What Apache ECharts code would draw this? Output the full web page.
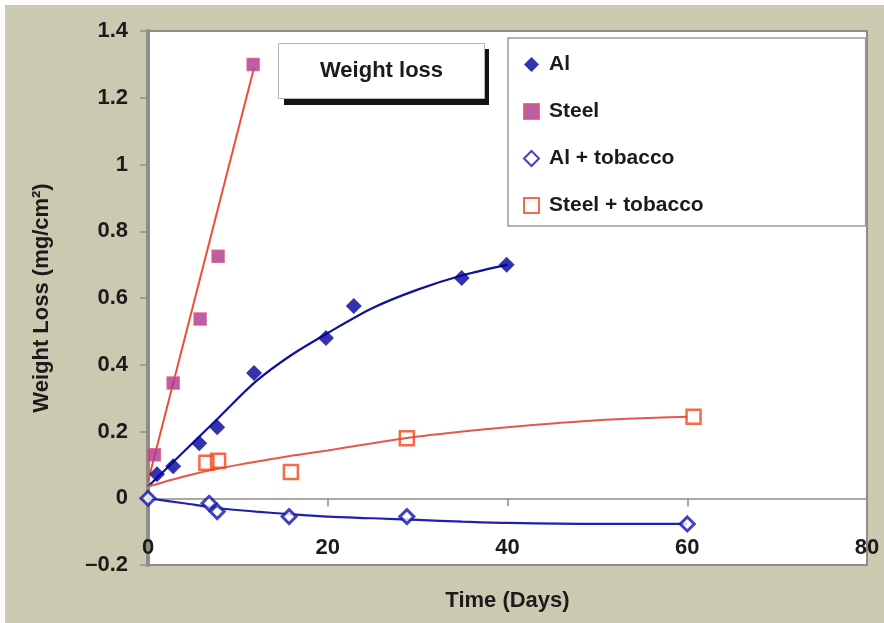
<!DOCTYPE html>
<html><head><meta charset="utf-8">
<script src="https://cdn.jsdelivr.net/npm/echarts@6/dist/echarts.min.js"></script>
<style>html,body{margin:0;padding:0;background:#fff}#c{width:884px;height:623px}</style>
</head><body><div id="c"></div>
<script>
// ---- data ----
const xTickValues = [0, 20, 40, 60, 80];
const yTickValues = [-0.2, 0, 0.2, 0.4, 0.6, 0.8, 1, 1.2, 1.4];
const seriesNames = ['Al', 'Steel', 'Al + tobacco', 'Steel + tobacco'];

const alX = [1.0, 2.8, 5.7, 7.7, 11.8, 19.8, 22.9, 34.9, 39.9];
const alY = [0.072, 0.096, 0.165, 0.213, 0.375, 0.48, 0.576, 0.66, 0.70];

const steelX = [0.7, 2.8, 5.8, 7.8, 11.7];
const steelY = [0.13, 0.345, 0.537, 0.725, 1.30];

const alTobX = [0, 6.8, 7.7, 15.7, 28.8, 60];
const alTobY = [0, -0.015, -0.04, -0.055, -0.055, -0.077];

const steelTobX = [6.5, 7.8, 15.9, 28.8, 60.7];
const steelTobY = [0.106, 0.112, 0.079, 0.18, 0.244];

// trend lines
const alFitX = [0, 4, 8, 12, 16, 20, 25, 30, 35, 40];
const alFitY = [0.035, 0.14, 0.245, 0.35, 0.43, 0.495, 0.57, 0.625, 0.668, 0.70];

const steelFitX = [0, 11.8];
const steelFitY = [0.05, 1.29];

const alTobFitX = [0, 4, 8, 12, 16, 20, 25, 30, 35, 40, 50, 60];
const alTobFitY = [0, -0.015, -0.03, -0.04, -0.048, -0.055, -0.06, -0.065, -0.07, -0.074, -0.077, -0.077];

const steelTobFitX = [0, 5, 10, 15, 20, 25, 30, 35, 40, 45, 50, 55, 60];
const steelTobFitY = [0.035, 0.072, 0.1, 0.123, 0.143, 0.165, 0.185, 0.2, 0.213, 0.224, 0.234, 0.24, 0.244];

// ---- helpers ----
const zip = (xs, ys) => xs.map((x, i) => [x, ys[i]]);
const FONT = 'Liberation Sans';
const TXT = '#1b1b1b';
const GRAY = '#8e8e88';

const chart = echarts.init(document.getElementById('c'), null, {renderer: 'canvas'});
chart.setOption({
  backgroundColor: '#cbc9b0',
  animation: false,
  textStyle: {fontFamily: FONT},
  graphic: [
    {type: 'rect', shape: {x: 0, y: 0, width: 884, height: 5}, style: {fill: '#fff'}, z: 100},
    {type: 'rect', shape: {x: 0, y: 0, width: 5, height: 623}, style: {fill: '#fff'}, z: 100},
    // drop shadow behind the title box
    {type: 'rect', shape: {x: 284, y: 49, width: 205, height: 56}, style: {fill: '#141414'}, z: 1}
  ],
  title: {
    text: 'Weight loss',
    left: 278, top: 43,
    padding: [17, 42],
    z: 10,
    backgroundColor: '#fff',
    borderColor: '#b5b5b5', borderWidth: 1,
    textStyle: {fontFamily: FONT, fontWeight: 'bold', fontSize: 22, color: TXT}
  },
  legend: {
    data: seriesNames,
    orient: 'vertical',
    left: 508, top: 38,
    padding: [16, 162, 10, 15],
    itemWidth: 15, itemHeight: 15,
    itemGap: 26,
    backgroundColor: '#fff',
    borderColor: '#9a9a9a', borderWidth: 1.5,
    textStyle: {fontFamily: FONT, fontWeight: 'bold', fontSize: 21, color: TXT, padding: [0, 0, 0, 5]}
  },
  grid: {
    left: 148, right: 17, top: 31, bottom: 58,
    outerBoundsMode: 'none',
    containLabel: false,
    show: true, backgroundColor: '#fff', borderColor: GRAY, borderWidth: 2
  },
  xAxis: {
    type: 'value',
    min: xTickValues[0], max: xTickValues[xTickValues.length - 1],
    interval: xTickValues[1] - xTickValues[0],
    name: 'Time (Days)', nameLocation: 'middle', nameGap: 25,
    nameTextStyle: {fontFamily: FONT, fontWeight: 'bold', fontSize: 22, color: TXT},
    axisLine: {onZero: true, lineStyle: {color: GRAY, width: 1.5}},
    axisTick: {show: true, length: 8, lineStyle: {color: GRAY, width: 1.5}},
    axisLabel: {inside: true, margin: 6, fontFamily: FONT, fontWeight: 'bold', fontSize: 22, color: TXT},
    splitLine: {show: false}
  },
  yAxis: {
    type: 'value',
    min: yTickValues[0], max: yTickValues[yTickValues.length - 1],
    interval: 0.2,
    name: 'Weight Loss (mg/cm²)', nameLocation: 'middle', nameGap: 95,
    nameTextStyle: {fontFamily: FONT, fontWeight: 'bold', fontSize: 22, color: TXT},
    axisLine: {show: true, onZero: false, lineStyle: {color: GRAY, width: 4}},
    axisTick: {show: true, length: 8, lineStyle: {color: GRAY, width: 1.5}},
    axisLabel: {
      margin: 20, fontFamily: FONT, fontWeight: 'bold', fontSize: 22, color: TXT,
      formatter: v => String(Math.round(v * 10) / 10).replace('-', '\u2013')
    },
    splitLine: {show: false}
  },
  series: [
    {name: 'Al', type: 'scatter', z: 5, data: zip(alX, alY),
      symbol: 'diamond', symbolSize: 16, itemStyle: {color: '#00009c'}},
    {name: 'Steel', type: 'scatter', z: 5, data: zip(steelX, steelY),
      symbol: 'rect', symbolSize: 12,
      itemStyle: {color: '#a63a92', borderColor: '#e0507a', borderWidth: 1.5}},
    {name: 'Al + tobacco', type: 'scatter', z: 5, data: zip(alTobX, alTobY),
      symbol: 'diamond', symbolSize: 14,
      itemStyle: {color: '#fff', borderColor: '#1414b0', borderWidth: 3}},
    {name: 'Steel + tobacco', type: 'scatter', z: 5, data: zip(steelTobX, steelTobY),
      symbol: 'rect', symbolSize: 14,
      itemStyle: {color: 'rgba(255,255,255,0)', borderColor: '#f0461c', borderWidth: 2.5}},
    {name: 'Al fit', type: 'line', z: 3, data: zip(alFitX, alFitY), smooth: 0.3,
      showSymbol: false, lineStyle: {color: '#10109a', width: 2.2}},
    {name: 'Steel fit', type: 'line', z: 3, data: zip(steelFitX, steelFitY),
      showSymbol: false, lineStyle: {color: '#ee4c3a', width: 2}},
    {name: 'Al + tobacco fit', type: 'line', z: 3, data: zip(alTobFitX, alTobFitY), smooth: 0.3,
      showSymbol: false, lineStyle: {color: '#2020b0', width: 2.2}},
    {name: 'Steel + tobacco fit', type: 'line', z: 3, data: zip(steelTobFitX, steelTobFitY), smooth: 0.3,
      showSymbol: false, lineStyle: {color: '#e4584a', width: 2}}
  ]
});
</script>
</body></html>
